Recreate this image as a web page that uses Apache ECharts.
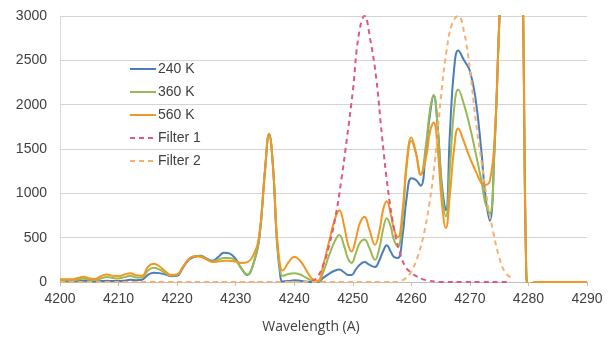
<!DOCTYPE html>
<html>
<head>
<meta charset="utf-8">
<script src="https://cdn.jsdelivr.net/npm/echarts@6/dist/echarts.min.js"></script>
<style>html,body{margin:0;padding:0;background:#fff}#chart{width:611px;height:345px}</style>
</head>
<body>
<div id="chart"></div>
<script>
// Wavelength grid (Å) shared by the three temperature spectra
const waves = [4200,4201,4202,4203,4204,4205,4206,4207,4208,4209,4210,4211,4212,4213,4214,4215,4216,4217,4218,4219,4220,4221,4222,4223,4224,4225,4226,4227,4228,4229,4230,4231,4232,4233,4234,4235,4235.7,4236.4,4237,4237.6,4238,4239,4240,4241,4242,4243,4244,4245,4246,4247,4247.7,4248.5,4249.2,4249.8,4250.5,4251.2,4252,4252.8,4253.8,4254.5,4255.2,4255.8,4256.5,4257,4257.7,4258.5,4259.2,4260,4260.8,4261.6,4262.5,4263.2,4263.8,4264.5,4265.2,4265.9,4266.6,4267.3,4268,4269,4270,4271,4272,4272.6,4273.4,4274.2,4275,4276,4277,4278,4278.6,4279.1,4279.6,4280,4281,4282,4283,4284,4285,4286,4287,4288,4289,4290];

const k240 = [10,10,5,10,15,10,5,10,15,10,10,15,25,20,25,80,105,100,85,65,70,160,250,285,295,265,240,280,330,320,260,150,80,200,470,1250,1670,1280,500,80,5,10,20,15,5,0,0,50,95,130,140,110,80,80,140,195,225,195,170,240,350,415,340,285,270,520,950,1170,1150,1085,1500,1900,2100,1750,1100,810,1700,2400,2610,2500,2380,2050,1450,1000,690,1500,2900,4500,5500,5500,5000,3000,200,-30,-5,0,0,0,0,0,0,0,0,0];

const k360 = [20,20,15,25,40,25,20,40,55,45,40,55,70,50,50,130,160,140,100,70,80,170,260,290,290,260,230,250,270,270,240,150,85,200,480,1250,1670,1280,520,130,70,90,100,85,50,15,5,120,310,470,530,410,260,215,320,440,480,390,250,370,600,720,620,480,400,720,1300,1590,1450,1210,1550,1950,2110,1750,1050,740,1300,1950,2170,2000,1750,1450,1130,900,775,1500,2900,4500,5500,5500,5000,3000,200,-30,-5,0,0,0,0,0,0,0,0,0];

const k560 = [35,30,30,45,60,40,35,65,85,70,65,85,100,75,70,170,205,175,120,80,85,170,260,290,285,255,225,230,240,240,230,215,225,300,520,1250,1670,1280,560,180,130,220,285,240,140,40,10,200,470,720,810,640,420,345,480,660,735,600,420,560,820,910,760,600,505,800,1350,1630,1450,1210,1400,1700,1800,1500,900,610,1000,1500,1730,1580,1400,1250,1110,1095,1140,1600,2900,4500,5500,5500,5000,3000,200,-30,-5,0,0,0,0,0,0,0,0,0];

// Filter transmission curves (same vertical scale), 4200..4277 Å step 1
const filterWaves = [4200,4201,4202,4203,4204,4205,4206,4207,4208,4209,4210,4211,4212,4213,4214,4215,4216,4217,4218,4219,4220,4221,4222,4223,4224,4225,4226,4227,4228,4229,4230,4231,4232,4233,4234,4235,4236,4237,4238,4239,4240,4241,4242,4243,4244,4245,4246,4247,4248,4249,4250,4251,4252,4253,4254,4255,4256,4257,4258,4259,4260,4261,4262,4263,4264,4265,4266,4267,4268,4269,4270,4271,4272,4273,4274,4275,4276,4277];

const filter1 = [0,0,0,0,0,0,0,0,0,0,0,0,0,0,0,0,0,0,0,0,0,0,0,0,0,0,0,0,0,0,0,0,0,0,0,0,0,0,0,0,0,0,0,10,60,200,420,720,1130,1620,2150,2780,3000,2730,2300,1640,1050,620,340,170,105,60,30,15,5,0,0,0,0,0,0,0,0,0,0,0,0,0];

const filter2 = [0,0,0,0,0,0,0,0,0,0,0,0,0,0,0,0,0,0,0,0,0,0,0,0,0,0,0,0,0,0,0,0,0,0,0,0,0,0,0,0,0,0,0,0,0,0,0,0,0,0,0,0,0,0,0,0,0,0,10,40,120,270,500,850,1350,2050,2600,2920,3000,2820,2400,1820,1350,900,560,280,110,50];

const seriesNames = ['240 K','360 K','560 K','Filter 1','Filter 2'];
const xTicks = [4200,4290,10];
const yTicks = [0,3000,500];

const pair = (xs, ys) => xs.map((x, i) => [x, ys[i]]);

const chart = echarts.init(document.getElementById('chart'), null, {renderer:'canvas'});
const font = "'Liberation Sans', Arial, sans-serif";
const lineSeries = (name, xs, ys, color, dashed) => ({
  name, type:'line', data: pair(xs, ys), smooth: 0.45, showSymbol:false, symbol:'none',
  clip: true,
  lineStyle: {color, width: 2, type: dashed ? [5,4] : 'solid'},
  itemStyle: {color},
  emphasis: {disabled: true},
  animation: false
});

chart.setOption({
  animation: false,
  grid: {left: 60, right: 24, top: 16, bottom: 63},
  legend: {
    show: true,
    orient: 'vertical', left: 124, top: 57,
    itemWidth: 26, itemHeight: 14, itemGap: 9,
    itemStyle: {opacity: 0, borderWidth: 0},
    textStyle: {fontFamily: font, fontSize: 14, color: '#404040', padding: [0, 0, 0, -3]},
    data: seriesNames
  },
  xAxis: {
    type: 'value', min: xTicks[0], max: xTicks[1], interval: xTicks[2],
    name: 'Wavelength (A)', nameLocation: 'middle', nameGap: 38,
    nameTextStyle: {fontFamily: "'Open Sans', sans-serif", fontSize: 14, color: '#404040', padding: [0, 25, 0, 0]},
    axisLine: {show: true, onZero: false, lineStyle: {color: '#bfbfbf', width: 1}},
    axisTick: {show: true, length: 4, lineStyle: {color: '#bfbfbf'}},
    axisLabel: {fontFamily: font, fontSize: 14, color: '#404040', margin: 10, formatter: v => String(v)},
    splitLine: {show: false}
  },
  yAxis: {
    type: 'value', min: yTicks[0], max: yTicks[1], interval: yTicks[2],
    axisLine: {show: true, lineStyle: {color: '#d9d9d9', width: 1}},
    axisTick: {show: false},
    axisLabel: {fontFamily: font, fontSize: 14, color: '#404040', margin: 13, formatter: v => String(v)},
    splitLine: {show: true, lineStyle: {color: '#d4d4d4', width: 1}}
  },
  series: [
    lineSeries(seriesNames[0], waves, k240, '#4a7ebb', false),
    lineSeries(seriesNames[1], waves, k360, '#98b954', false),
    lineSeries(seriesNames[2], waves, k560, '#f39624', false),
    lineSeries(seriesNames[3], filterWaves, filter1, '#e0587c', true),
    lineSeries(seriesNames[4], filterWaves, filter2, '#f8b070', true)
  ]
});
</script>
</body>
</html>
